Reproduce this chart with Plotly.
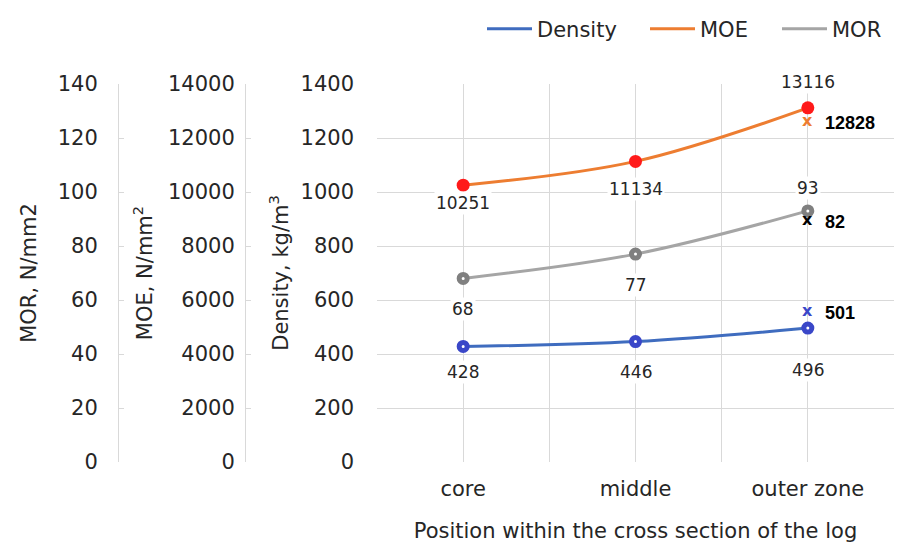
import plotly.graph_objects as go

# ---- data ----
categories = ["core", "middle", "outer zone"]
density = [428, 446, 496]          # kg/m3
moe = [10251, 11134, 13116]        # N/mm2
mor = [68, 77, 93]                 # N/mm2
# measured reference values at the outer zone (x markers)
measured_density = 501
measured_moe = 12828
measured_mor = 82

density_ticks = [0, 200, 400, 600, 800, 1000, 1200, 1400]
moe_ticks = [0, 2000, 4000, 6000, 8000, 10000, 12000, 14000]
mor_ticks = [0, 20, 40, 60, 80, 100, 120, 140]

# ---- style ----
W, H = 897, 544
ML, MR, MT, MB = 0, 3, 84, 82
PW = W - ML - MR
FONT = "DejaVu Sans, sans-serif"
BFONT = "Liberation Sans, Arial, sans-serif"
TXT = "#262626"
GRID = "#d9d9d9"
BLUE_LINE = "#3f6cbf"
BLUE_MK = "#3a47c8"
ORANGE = "#ED7D31"
RED = "#ff1a1a"
GRAY_LINE = "#A5A5A5"
GRAY_MK = "#808080"

xs = list(range(len(categories)))
last = xs[-1]

fig = go.Figure()

fig.add_trace(go.Scatter(
    x=xs, y=density, mode="lines+markers", yaxis="y", showlegend=False,
    line=dict(color=BLUE_LINE, width=3, shape="spline"),
    marker=dict(symbol="circle", size=8, color="white", line=dict(color=BLUE_MK, width=5)),
))
fig.add_trace(go.Scatter(
    x=xs, y=moe, mode="lines+markers", yaxis="y2", showlegend=False,
    line=dict(color=ORANGE, width=3, shape="spline"),
    marker=dict(symbol="circle", size=13, color=RED),
))
fig.add_trace(go.Scatter(
    x=xs, y=mor, mode="lines+markers", yaxis="y3", showlegend=False,
    line=dict(color=GRAY_LINE, width=3, shape="spline"),
    marker=dict(symbol="circle", size=8, color="white", line=dict(color=GRAY_MK, width=5)),
))

# legend-only entries (line samples), one legend box each for spacing
legend_names = ["Density", "MOE", "MOR"]
legend_cols = [BLUE_LINE, ORANGE, GRAY_LINE]
legend_ids = ["legend", "legend2", "legend3"]
legend_left = [492, 655, 787]  # pixel start of each legend entry (layout)
for name, col, lid in zip(legend_names, legend_cols, legend_ids):
    fig.add_trace(go.Scatter(x=[None], y=[None], mode="lines", name=name, legend=lid,
                             line=dict(color=col, width=3), yaxis="y"))

annotations = []
# data labels (pixel offsets are styling only)
lab_font = dict(family=FONT, size=17, color=TXT)
density_off = [-26, -30, -42]
moe_off = [-18, -28, 26]
mor_off = [-31, -31, 23]
for vals, ref, offs in [(density, "y", density_off), (moe, "y2", moe_off), (mor, "y3", mor_off)]:
    for xi, v, o in zip(xs, vals, offs):
        annotations.append(dict(x=xi, y=v, xref="x", yref=ref, text=str(v), showarrow=False,
                                yshift=o, font=lab_font, bgcolor="white", borderpad=1))

# measured values: x marks and bold labels
for v, ref, col, shift in [(measured_moe, "y2", ORANGE, -7),
                           (measured_mor, "y3", "#000000", 19),
                           (measured_density, "y", BLUE_MK, 14)]:
    annotations.append(dict(x=last, y=v, xref="x", yref=ref, text="<b>x</b>", showarrow=False,
                            yshift=shift + 2, font=dict(family=FONT, size=16, color=col)))
    annotations.append(dict(x=last, y=v, xref="x", yref=ref, text="<b>%d</b>" % v, showarrow=False,
                            xanchor="left", xshift=15, yshift=shift,
                            font=dict(family=BFONT, size=18, color="#000000")))

tick_font = dict(family=FONT, size=21, color=TXT)
title_font = dict(family=FONT, size=21, color=TXT)

x0 = 377 / PW

legend_common = dict(orientation="h", xref="container", xanchor="left",
                     yref="container", y=1 - 29 / H, yanchor="middle", itemwidth=45,
                     font=dict(family=FONT, size=21, color=TXT), bgcolor="rgba(0,0,0,0)")

fig.update_layout(
    width=W, height=H,
    margin=dict(l=ML, r=MR, t=MT, b=MB, autoexpand=False),
    paper_bgcolor="white", plot_bgcolor="white",
    font=dict(family=FONT, color=TXT),
    xaxis=dict(
        domain=[x0, 1], range=[-0.5, len(categories) - 0.5],
        tickvals=xs, ticktext=categories, tickfont=tick_font, ticks="",
        showgrid=True, gridcolor=GRID, gridwidth=1, zeroline=False,
        minor=dict(tickvals=[i - 0.5 for i in range(len(categories) + 1)],
                   showgrid=True, gridcolor=GRID, gridwidth=1, ticks=""),
        title=dict(text="Position within the cross section of the log", font=title_font, standoff=23),
        ticklabelstandoff=12, automargin=False,
    ),
    yaxis=dict(
        range=[0, 1400], tickvals=density_ticks, tickfont=tick_font,
        showgrid=True, gridcolor=GRID, gridwidth=1, zeroline=False, showline=False, ticks="",
        ticklabelstandoff=22, automargin=False,
        title=dict(text="Density, kg/m<sup>3</sup>", font=title_font, standoff=6),
    ),
    yaxis2=dict(
        range=[0, 14000], tickvals=moe_ticks, tickformat="d", tickfont=tick_font, overlaying="y",
        anchor="free", position=245 / PW, side="left",
        showgrid=False, zeroline=False, showline=True, linecolor=GRID, linewidth=1,
        ticks="inside", ticklen=5, tickcolor=GRID, ticklabelstandoff=6, automargin=False,
        title=dict(text="MOE, N/mm<sup>2</sup>", font=title_font, standoff=8),
    ),
    yaxis3=dict(
        range=[0, 140], tickvals=mor_ticks, tickfont=tick_font, overlaying="y",
        anchor="free", position=118 / PW, side="left",
        showgrid=False, zeroline=False, showline=True, linecolor=GRID, linewidth=1,
        ticks="inside", ticklen=5, tickcolor=GRID, ticklabelstandoff=16, automargin=False,
        title=dict(text="MOR, N/mm2", font=title_font, standoff=14),
    ),
    legend=dict(x=(legend_left[0] - 10) / W, **legend_common),
    legend2=dict(x=(legend_left[1] - 10) / W, **legend_common),
    legend3=dict(x=(legend_left[2] - 10) / W, **legend_common),
    annotations=annotations,
)

fig.write_html("out.html", config={"displayModeBar": False},
               post_script="document.body.style.margin='0';document.body.style.overflow='hidden';")
